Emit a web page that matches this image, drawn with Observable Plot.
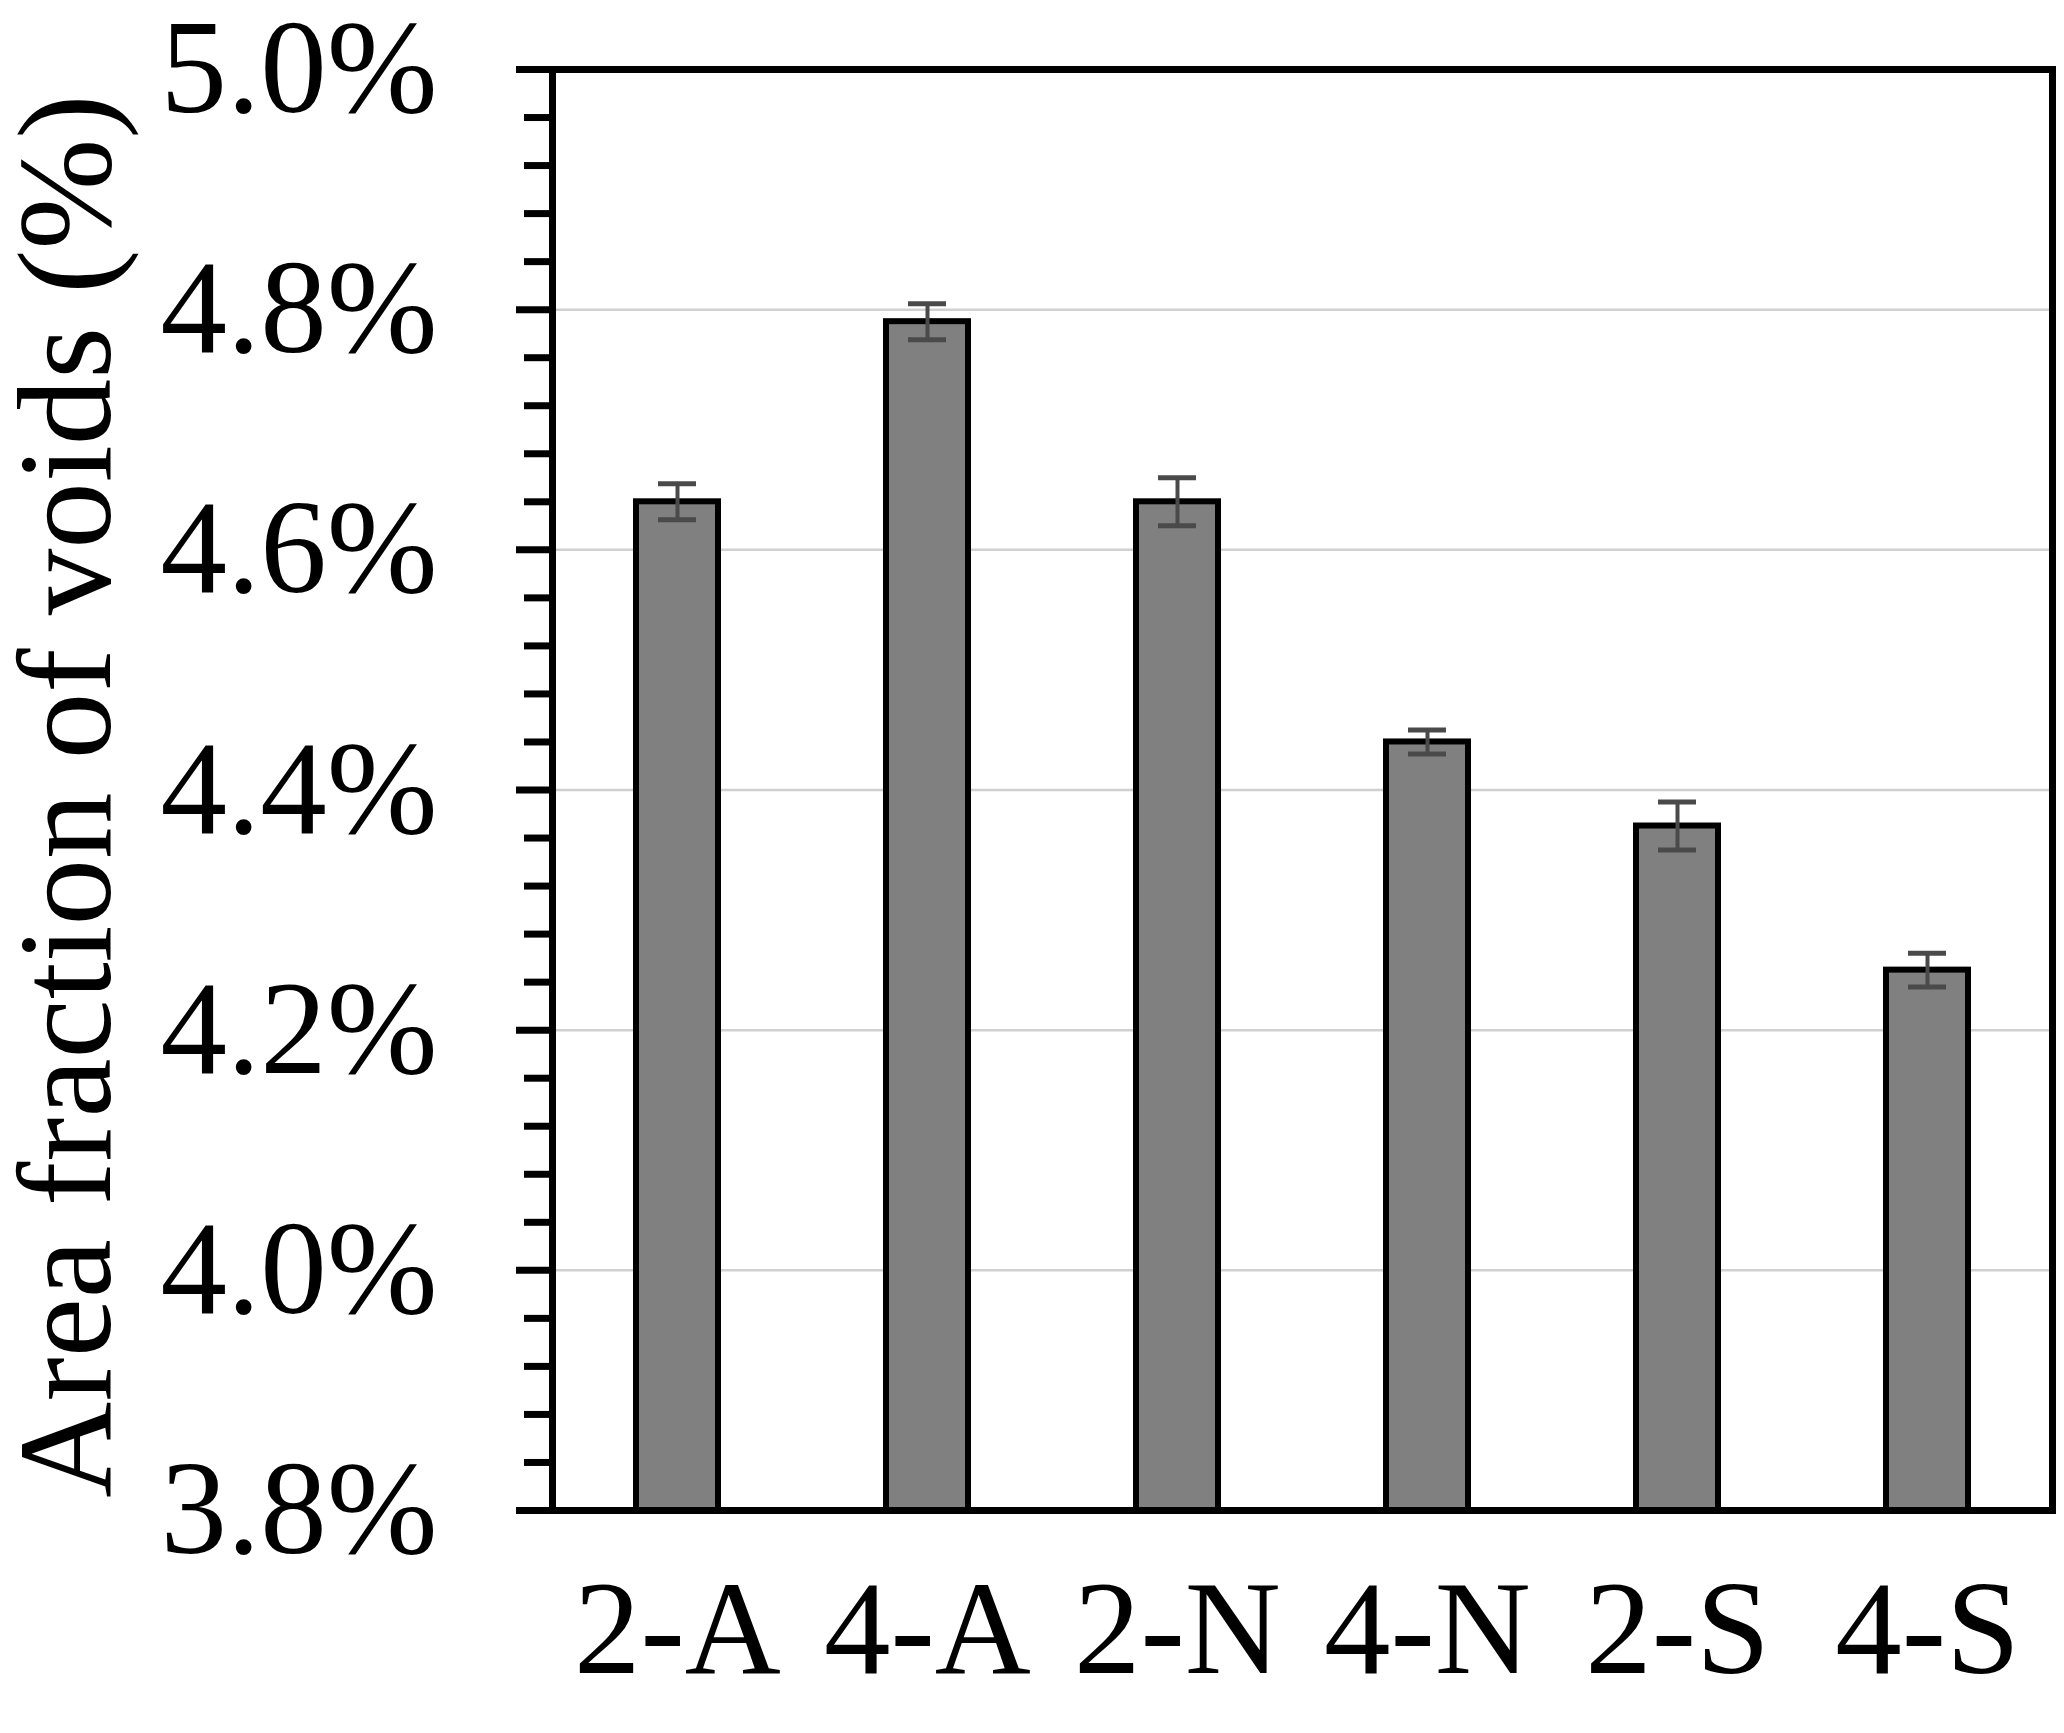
<!DOCTYPE html>
<html>
<head>
<meta charset="utf-8">
<script src="https://cdn.jsdelivr.net/npm/d3@7"></script>
<script src="https://cdn.jsdelivr.net/npm/@observablehq/plot@0.6"></script>
<style>
  html, body { margin: 0; padding: 0; background: #fff; }
  svg { display: block; }
  svg text { font-family: "Liberation Serif", "Times New Roman", serif; }
  g[aria-label="y-axis tick"] { stroke-width: 7px; stroke: #000; }
</style>
</head>
<body>
<div id="chart"></div>
<script>
const categories = ["2-A", "4-A", "2-N", "4-N", "2-S", "4-S"];
const values = [4.64, 4.79, 4.64, 4.44, 4.37, 4.25];
const errors = [0.015, 0.015, 0.02, 0.01, 0.02, 0.014];
const yDomain = [3.8, 5.0];
const majorTicks = [3.8, 4.0, 4.2, 4.4, 4.6, 4.8, 5.0];
const gridTicks = [4.0, 4.2, 4.4, 4.6, 4.8];
const minorTicks = d3.range(0, 31).map(i => +(3.8 + i * 0.04).toFixed(2)).filter(v => !majorTicks.includes(v));
const yTitle = "Area fraction of voids (%)";

const data = categories.map((c, i) => ({cat: c, v: values[i], lo: values[i] - errors[i], hi: values[i] + errors[i], base: yDomain[0]}));

const font = "'Liberation Serif', 'Times New Roman', serif";

const chart = Plot.plot({
  width: 2064,
  height: 1733,
  marginTop: 69,
  marginBottom: 223,
  marginLeft: 552,
  marginRight: 12,
  style: {fontFamily: font, background: "#fff"},
  x: {domain: categories, paddingInner: 0.67, paddingOuter: 0.335, align: 0.5},
  y: {domain: yDomain},
  marks: [
    Plot.gridY(gridTicks, {stroke: "#d0d0d0", strokeOpacity: 1, strokeWidth: 2.5}),
    Plot.barY(data, {x: "cat", y1: "base", y2: "v", fill: "#808080", stroke: "#000", strokeWidth: 6}),
    Plot.ruleX(data, {x: "cat", y1: "lo", y2: "hi", stroke: "#4a4a4a", strokeWidth: 4}),
    Plot.tickY(data, {x: "cat", y: "hi", stroke: "#4a4a4a", strokeWidth: 5, insetLeft: 22, insetRight: 22}),
    Plot.tickY(data, {x: "cat", y: "lo", stroke: "#4a4a4a", strokeWidth: 5, insetLeft: 22, insetRight: 22}),
    Plot.axisY({ticks: minorTicks, tickSize: 28, tickFormat: () => "", stroke: "#000", strokeWidth: 7, label: null}),
    Plot.axisY({ticks: majorTicks, tickSize: 36, tickPadding: 79, tickFormat: d => d.toFixed(1) + "%", stroke: "#000", strokeWidth: 7, fontSize: 133, fill: "#000", label: null}),
    Plot.axisX({tickSize: 0, tickPadding: 68, fontSize: 133, fill: "#000", label: null}),
    Plot.frame({stroke: "#000", strokeWidth: 7}),
    Plot.text([yTitle], {frameAnchor: "left", textAnchor: "middle", lineAnchor: "middle", dx: -485, dy: 6, rotate: -90, fontSize: 133, fill: "#000", text: d => d})
  ]
});
document.getElementById("chart").appendChild(chart);
</script>
</body>
</html>
